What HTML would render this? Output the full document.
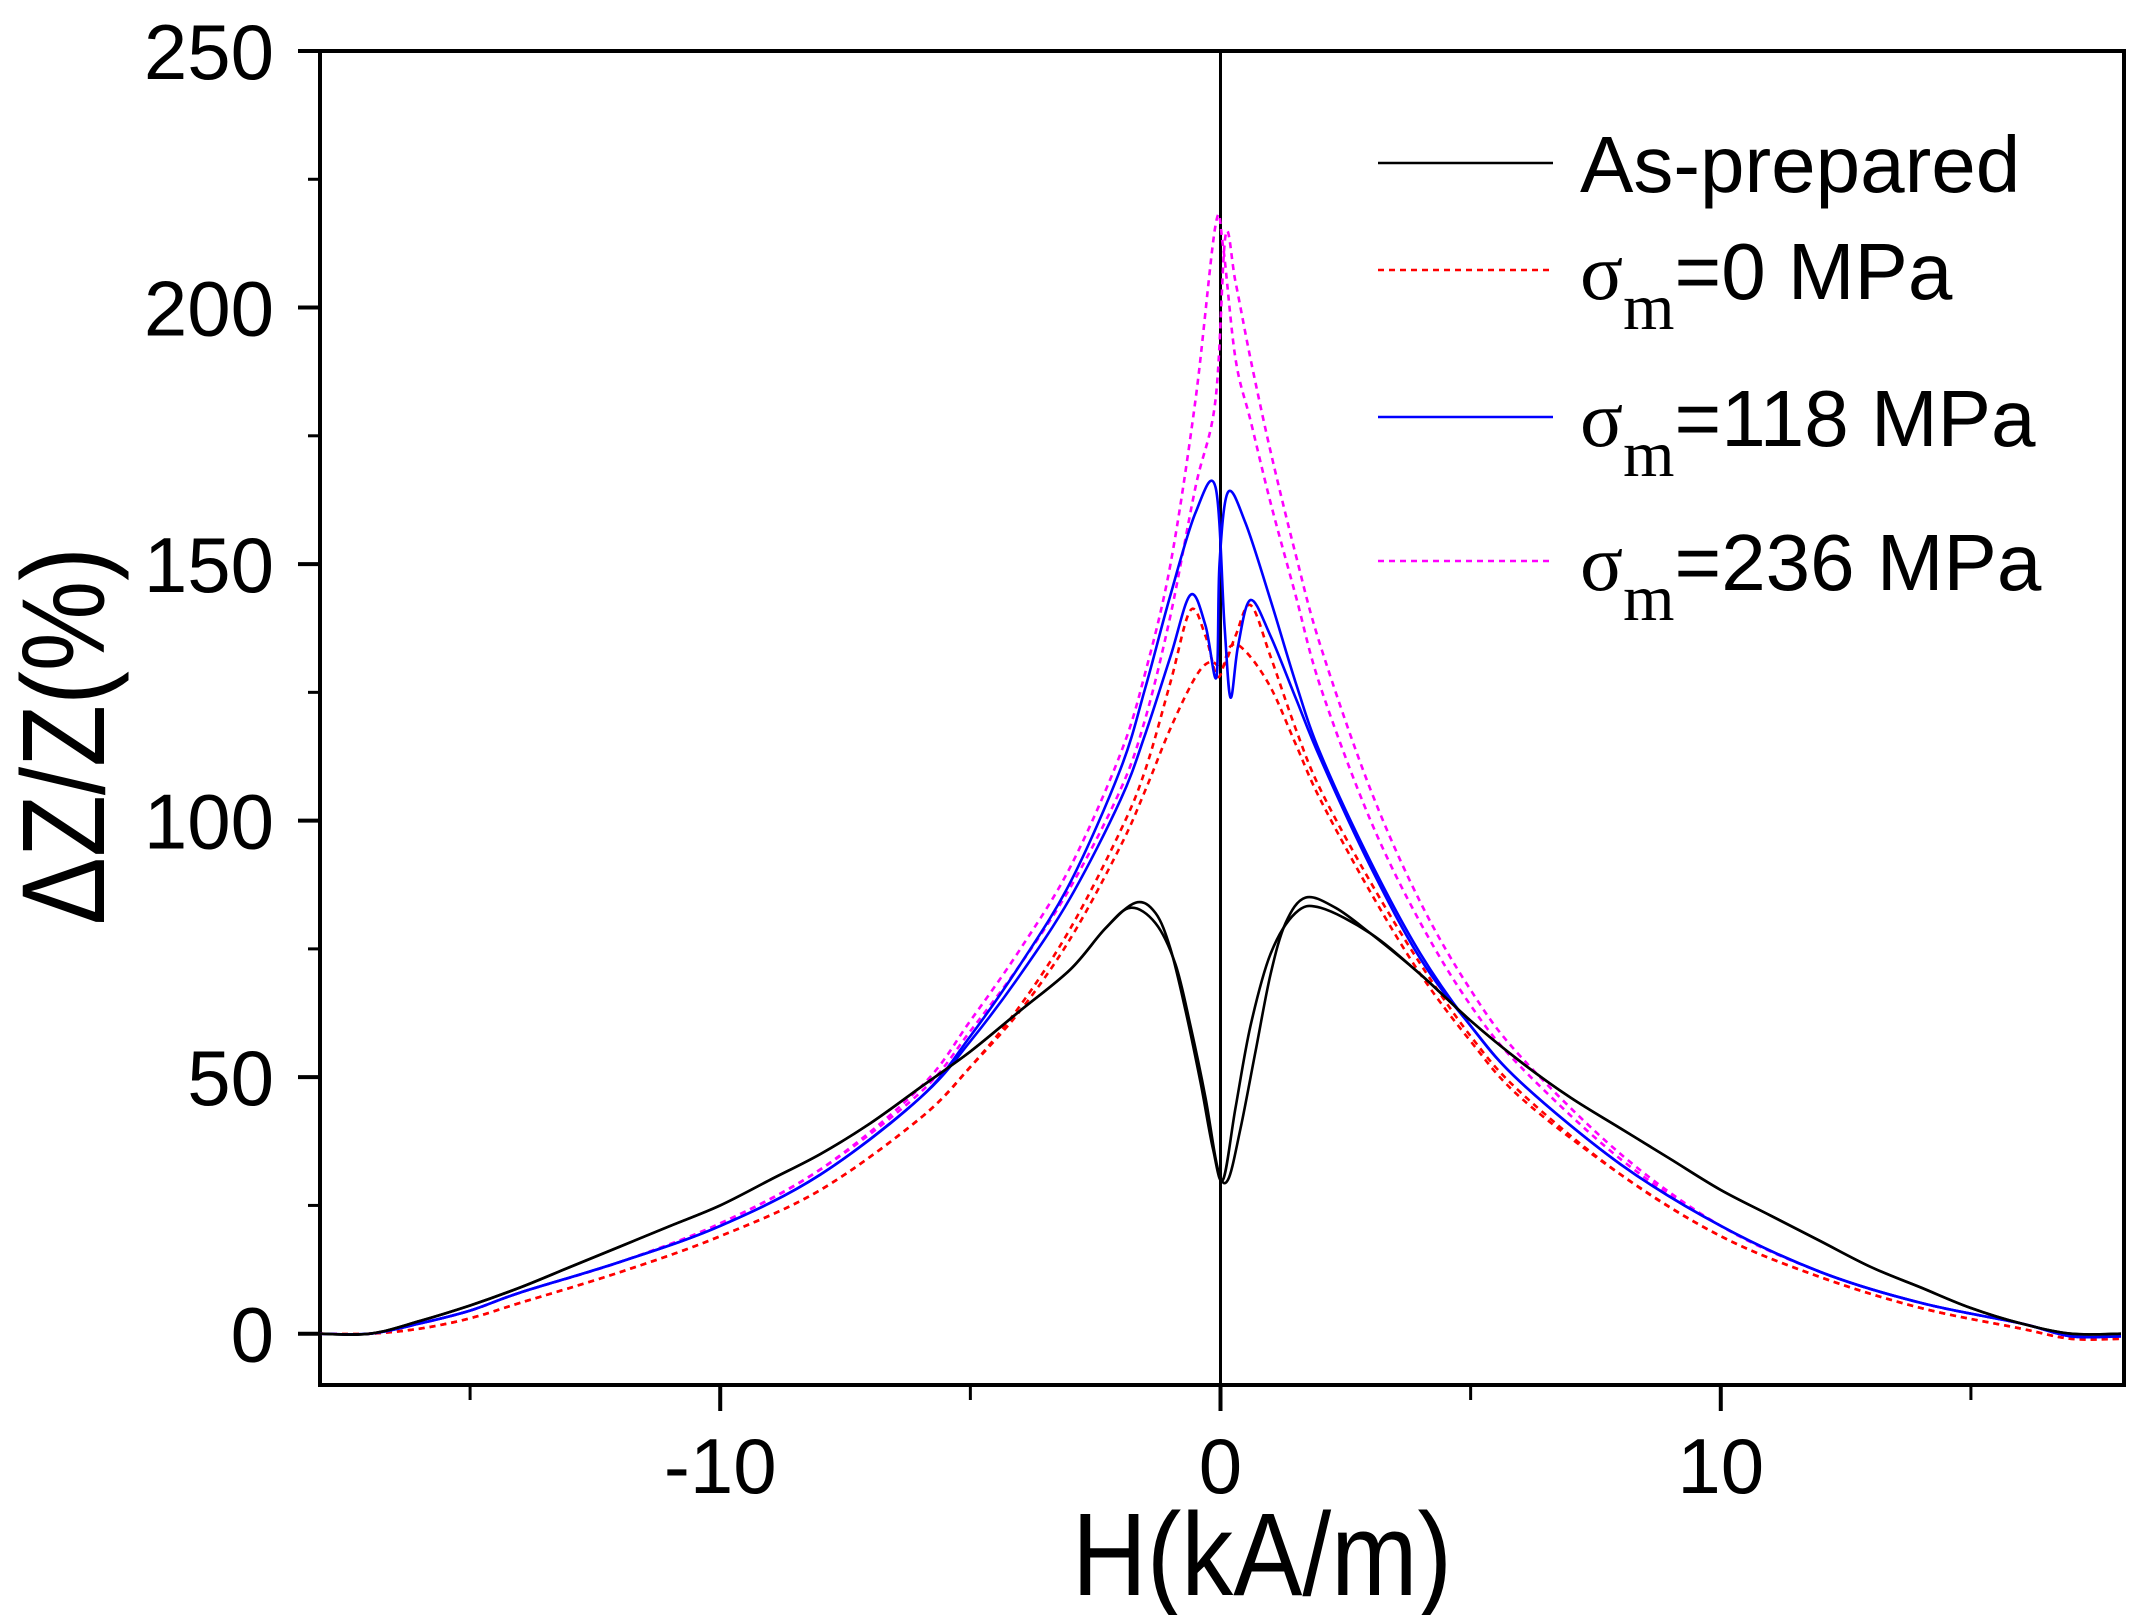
<!DOCTYPE html>
<html><head><meta charset="utf-8"><style>
html,body{margin:0;padding:0;background:#fff}
svg{display:block}
text{font-family:"Liberation Sans",sans-serif;fill:#000}
</style></head><body>
<svg id="chart" width="2156" height="1615" viewBox="0 0 2156 1615" xmlns="http://www.w3.org/2000/svg">
<g id="axes"></g>
<g id="series"></g>
<g id="legend"></g>
</svg>
<script>
const xTicks=[-10,0,10];
const xMinor=[-15,-5,5,15];
const yTicks=[0,50,100,150,200,250];
const yMinor=[25,75,125,175,225];
// As-prepared
const blackAX=[-18,-17,-16,-15,-14,-13,-12,-11,-10,-9,-8,-7,-6,-5,-4,-3,-2.3,-1.7,-1.3,-1,-0.7,-0.4,-0.15,0.05,0.3,0.6,1,1.5,2,3,4,5,6,7,8,9,10,11,12,13,14,15,16,17,18];
const blackAY=[0,0,2.5,5.5,9,13,17,21,25,30,35,41,48,55,63,71,79,84,82,75,63,49,36,30,44,60,74,82,83,78,70,61,53,46,40,34,28,23,18,13,9,5,2,0,0];
const blackBX=[-18,-17,-16,-15,-14,-13,-12,-11,-10,-9,-8,-7,-6,-5,-4,-3,-2.3,-1.8,-1.3,-0.9,-0.6,-0.3,-0.05,0.15,0.4,0.7,1,1.3,1.7,2.3,3,4,5,6,7,8,9,10,11,12,13,14,15,16,17,18];
const blackBY=[0,0,2.5,5.5,9,13,17,21,25,30,35,41,48,55,63,71,79,83,80,72,60,46,32,30,40,55,70,80,85,83,78,70,61,53,46,40,34,28,23,18,13,9,5,2,0,0];
// sigma 0
const redAX=[-18,-17,-16,-15,-14,-12,-10,-8,-6,-5,-4,-3,-2,-1.5,-1,-0.6,-0.3,-0.05,0.2,0.5,1,1.5,2,3,4,5,6,8,10,12,14,16,17,18];
const redAY=[0,0,1,3,6,12,19,28,42,52,64,79,98,110,127,141,136,128,134,133,126,115,104,86,70,57,46,31,19,11,5,1,-1,-1];
const redBX=[-18,-17,-16,-15,-14,-12,-10,-8,-6,-5,-4,-3,-2,-1.5,-1,-0.5,-0.2,0.05,0.3,0.6,1,1.5,2,3,4,5,6,8,10,12,14,16,17,18];
const redBY=[0,0,1,3,6,12,19,28,42,52,63,77,95,106,118,128,131,130,136,142,132,118,106,88,72,58,47,31,19,11,5,1,-1,-1];
// sigma 118
const blueAX=[-18,-17,-16,-15,-14,-12,-10,-8,-6,-5,-4,-3,-2,-1.5,-1,-0.6,-0.3,-0.08,-0.02,0.15,0.5,1,1.5,2,3,4,5,6,8,10,12,14,16,17,18];
const blueAY=[0,0,2,4.5,8,14,21,31,46,57,70,85,104,117,132,144,138,128,150,164,158,143,127,113,92,74,60,49,33,21,12,6,2,-0.5,-0.5];
const blueBX=[-18,-17,-16,-15,-14,-12,-10,-8,-6,-5,-4,-3,-2,-1.5,-1,-0.5,-0.1,0.08,0.2,0.35,0.6,1,1.5,2,3,4,5,6,8,10,12,14,16,17,18];
const blueBY=[0,0,2,4.5,8,14,21,31,46,58,72,88,110,126,144,160,165,138,124,134,143,136,124,112,91,73,60,49,33,21,12,6,2,-0.5,-0.5];
// sigma 236
const magAX=[-18,-17,-16,-15,-14,-12,-10,-8,-6,-5,-4,-3,-2,-1.5,-1,-0.5,-0.1,0.05,0.3,0.6,1,1.5,2,3,4,5,6,8,10,12,14,16,17,18];
const magAY=[0,0,2,4.5,8,14,21.5,32,48,61,75,91,113,129,150,182,216,212,190,178,162,144,126,100,80,64,52,34,21,12,6,2,-0.5,-0.5];
const magBX=[-18,-17,-16,-15,-14,-12,-10,-8,-6,-5,-4,-3,-2,-1.5,-1,-0.5,-0.1,0.1,0.3,0.6,1,1.5,2,3,4,5,6,8,10,12,14,16,17,18];
const magBY=[0,0,2,4.5,8,14,21.5,32,47,59,72,87,106,120,140,165,182,214,205,190,172,152,134,106,84,67,54,35,21,12,6,2,-0.5,-0.5];

const L=320,R=2124,T=51,B=1385,X0=-18,X1=18.06,Y0=-10,Y1=250;
const sx=v=>L+(v-X0)/(X1-X0)*(R-L);
const sy=v=>B-(v-Y0)/(Y1-Y0)*(B-T);
const NS='http://www.w3.org/2000/svg';
function mk(tag,attrs,parent){const e=document.createElementNS(NS,tag);for(const k in attrs)e.setAttribute(k,attrs[k]);parent.appendChild(e);return e;}
const axes=document.getElementById('axes'),series=document.getElementById('series'),legend=document.getElementById('legend');

let frame=mk('rect',{x:L,y:T,width:R-L,height:B-T,fill:'none',stroke:'#000','stroke-width':4},axes);


let zl=mk('line',{x1:sx(0),x2:sx(0),y1:T,y2:B,stroke:'#000','stroke-width':3},axes);



yTicks.forEach(v=>{
  let t=mk('line',{x1:L-22,x2:L,y1:sy(v),y2:sy(v),stroke:'#000','stroke-width':4},axes);
  
  
  let l=mk('text',{x:L-46,y:sy(v)+28,'text-anchor':'end','font-size':78},axes);
  l.textContent=v;
  
  
});
yMinor.forEach(v=>{
  let t=mk('line',{x1:L-12,x2:L,y1:sy(v),y2:sy(v),stroke:'#000','stroke-width':3},axes);
  
  
});
xTicks.forEach(v=>{
  let t=mk('line',{x1:sx(v),x2:sx(v),y1:B,y2:B+26,stroke:'#000','stroke-width':4},axes);
  
  
  let l=mk('text',{x:sx(v),y:B+108,'text-anchor':'middle','font-size':78},axes);
  l.textContent=v;
  
  
});
xMinor.forEach(v=>{
  let t=mk('line',{x1:sx(v),x2:sx(v),y1:B,y2:B+15,stroke:'#000','stroke-width':3},axes);
  
  
});
let xt=mk('text',{x:1262,y:1595,'text-anchor':'middle','font-size':118,textLength:380,lengthAdjust:'spacingAndGlyphs'},axes);
xt.textContent='H(kA/m)';


let yt=mk('text',{x:0,y:0,'text-anchor':'middle','font-size':118,textLength:378,lengthAdjust:'spacingAndGlyphs',transform:'translate(104,736) rotate(-90)'},axes);
yt.textContent='ΔZ/Z(%)';



function pathD(xs,ys){
  const p=xs.map((x,i)=>[sx(x),sy(ys[i])]);
  let d='M'+p[0][0].toFixed(1)+','+p[0][1].toFixed(1);
  for(let i=0;i<p.length-1;i++){
    const p0=p[Math.max(0,i-1)],p1=p[i],p2=p[i+1],p3=p[Math.min(p.length-1,i+2)];
    const c1=[p1[0]+(p2[0]-p0[0])/6,p1[1]+(p2[1]-p0[1])/6];
    const c2=[p2[0]-(p3[0]-p1[0])/6,p2[1]-(p3[1]-p1[1])/6];
    d+=' C'+c1[0].toFixed(1)+','+c1[1].toFixed(1)+' '+c2[0].toFixed(1)+','+c2[1].toFixed(1)+' '+p2[0].toFixed(1)+','+p2[1].toFixed(1);
  }
  return d;
}
const styles={black:{c:'#000',d:''},red:{c:'#ff0000',d:'6,5'},blue:{c:'#0000ff',d:''},mag:{c:'#ff00ff',d:'6,5'}};
function draw(xs,ys,st,name){
  const e=mk('path',{d:pathD(xs,ys),fill:'none',stroke:st.c,'stroke-width':2.6},series);
  if(st.d)e.setAttribute('stroke-dasharray',st.d);
  
  
}
draw(redAX,redAY,styles.red,'sigma0-branch-a');
draw(redBX,redBY,styles.red,'sigma0-branch-b');
draw(magAX,magAY,styles.mag,'sigma236-branch-a');
draw(magBX,magBY,styles.mag,'sigma236-branch-b');
draw(blueAX,blueAY,styles.blue,'sigma118-branch-a');
draw(blueBX,blueBY,styles.blue,'sigma118-branch-b');
draw(blackAX,blackAY,styles.black,'as-prepared-branch-a');
draw(blackBX,blackBY,styles.black,'as-prepared-branch-b');

const legRows=[{y:163,st:styles.black,main:'As-prepared',sub:null,n:'legend-as-prepared'},
 {y:270,st:styles.red,main:'=0 MPa',sub:'m',n:'legend-sigma0'},
 {y:417,st:styles.blue,main:'=118 MPa',sub:'m',n:'legend-sigma118'},
 {y:561,st:styles.mag,main:'=236 MPa',sub:'m',n:'legend-sigma236'}];
legRows.forEach(r=>{
  const g=mk('g',{},legend);
  
  
  const ln=mk('line',{x1:1378,x2:1553,y1:r.y,y2:r.y,stroke:r.st.c,'stroke-width':2.6},g);
  if(r.st.d)ln.setAttribute('stroke-dasharray',r.st.d);
  const t=mk('text',{x:1580,y:r.y+29,'font-size':80},g);
  if(r.sub){
    const s1=mk('tspan',{'font-family':'Liberation Serif, serif'},t);s1.textContent='σ';
    const s2=mk('tspan',{'font-family':'Liberation Serif, serif','font-size':66,dy:30},t);s2.textContent='m';
    const s3=mk('tspan',{dy:-30},t);s3.textContent=r.main;
  } else t.textContent=r.main;
});
</script>
</body></html>
